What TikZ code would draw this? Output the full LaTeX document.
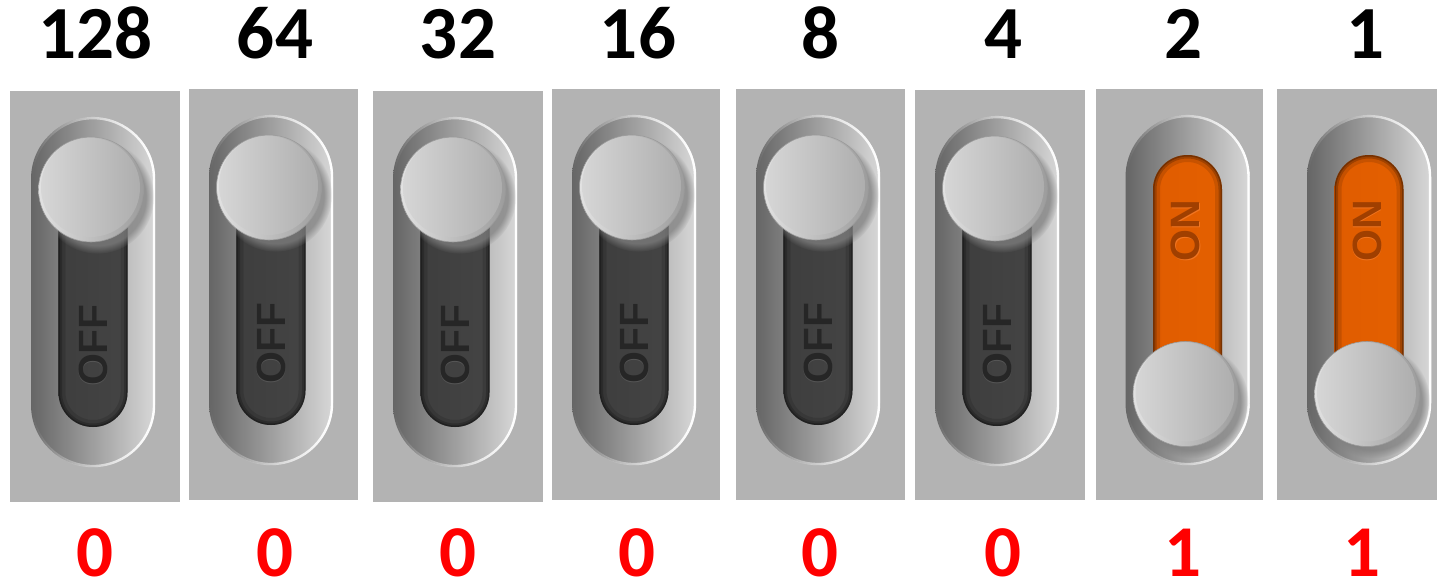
\documentclass[tikz,border=0pt]{standalone}
\usepackage{fontspec}
\setmainfont{Carlito}
\newfontfamily\capfont{Liberation Sans}
\usetikzlibrary{shadows,fadings}

\definecolor{panelgray}{HTML}{B3B3B3}
\definecolor{bezelleft}{HTML}{656565}
\definecolor{bezelright}{HTML}{D8D8D8}
\definecolor{slotedge}{HTML}{3E3E3E}
\definecolor{slotmid}{HTML}{5A5A5A}
\definecolor{slotedgeR}{HTML}{444444}
\definecolor{offink}{HTML}{262626}
\definecolor{offlight}{HTML}{606060}
\definecolor{orangeedge}{HTML}{E05C00}
\definecolor{orangemid}{HTML}{F56E00}
\definecolor{orangeedgeR}{HTML}{E46000}
\definecolor{onink}{HTML}{A03F00}
\definecolor{onlight}{HTML}{F88030}
\definecolor{knobleft}{HTML}{E2E2E2}
\definecolor{knobright}{HTML}{9C9C9C}
\definecolor{knobileft}{HTML}{D6D6D6}
\definecolor{knobiright}{HTML}{AEAEAE}
\definecolor{knobedge}{HTML}{9A9A9A}
\definecolor{bitred}{HTML}{FF0000}

% rim light: invisible on the left, bright on the right
\tikzfading[name=rimfade, left color=transparent!100, middle color=transparent!85, right color=transparent!0]

\tikzset{
  panel/.style={fill=panelgray, draw=none},
  bezel/.style={rounded corners=62pt, left color=bezelleft, right color=bezelright},
  rim/.style={draw=white, line width=2.4pt, rounded corners=61pt, path fading=rimfade},
  slotoff/.style={rounded corners=34.5pt, left color=slotedge, middle color=slotmid, right color=slotedgeR},
  sloton/.style={rounded corners=34.5pt, left color=orangeedge, middle color=orangemid, right color=orangeedgeR},
  slotshade/.style={draw=black, rounded corners=34.5pt},
  slotlabel/.style={rotate=90, inner sep=0, font=\capfont\bfseries\fontsize{41}{41}\selectfont},
  knobshadow/.style={circular drop shadow={shadow xshift=6pt, shadow yshift=-7pt, opacity=.75, shadow scale=1.08}},
  knobouter/.style={left color=knobleft, right color=knobright},
  knobinner/.style={left color=knobileft, right color=knobiright},
  weight/.style={anchor=base, inner sep=0, text=black, font=\fontsize{75}{75}\selectfont\bfseries},
  bitval/.style={anchor=base, inner sep=0, text depth=0pt, text=bitred, font=\fontsize{73}{73}\selectfont\bfseries},
}

% #1 = centre x of the bezel, #2 = top y of the bezel, #3 = 1 for ON, #4 = name prefix
\newcommand\drawtoggle[4]{%
  % bezel
  \path[bezel] ({#1-62},{#2}) rectangle ({#1+62},{#2+350});
  \path[rim] ({#1-61},{#2+1}) rectangle ({#1+61},{#2+349});
  % slot
  \ifnum#3=1
    \path[sloton] ({#1-34.5},{#2+40}) rectangle ({#1+34.5},{#2+310});
  \else
    \path[slotoff] ({#1-34.5},{#2+40}) rectangle ({#1+34.5},{#2+310});
  \fi
  \begin{scope}
    \clip[rounded corners=34.5pt] ({#1-34.5},{#2+40}) rectangle ({#1+34.5},{#2+310});
    \path[slotshade, line width=14pt, draw opacity=.12] ({#1-34.5},{#2+40}) rectangle ({#1+34.5},{#2+310});
    \path[slotshade, line width=7pt, draw opacity=.2] ({#1-34.5},{#2+40}) rectangle ({#1+34.5},{#2+310});
    \path[slotshade, line width=3pt, draw opacity=.25] ({#1-34.5},{#2+40}) rectangle ({#1+34.5},{#2+310});
  \end{scope}
  % slot caption and knob
  \ifnum#3=1
    \node[slotlabel, text=onlight, opacity=.7] (#4-glow) at ({#1-1.2},{#2+116.8}) {ON};
    \node[slotlabel, text=onink] (#4-label) at ({#1-2},{#2+116}) {ON};
    \path[knobshadow] ({#1-2},{#2+279}) circle[radius=52.5];
    \path[knobouter] ({#1-2},{#2+279}) circle[radius=52.5];
    \path[knobinner] ({#1-2.5},{#2+277}) circle[radius=49.5];
    \draw[knobedge, line width=.6pt] ({#1-2},{#2+279}) circle[radius=52.5];
  \else
    \node[slotlabel, text=offlight, opacity=.7] (#4-glow) at ({#1+0.8},{#2+228.8}) {OFF};
    \node[slotlabel, text=offink] (#4-label) at ({#1},{#2+228}) {OFF};
    \path[knobshadow] ({#1-2},{#2+72.5}) circle[radius=52.5];
    \path[knobouter] ({#1-2},{#2+72.5}) circle[radius=52.5];
    \path[knobinner] ({#1-2.5},{#2+70.5}) circle[radius=49.5];
    \draw[knobedge, line width=.6pt] ({#1-2},{#2+72.5}) circle[radius=52.5];
  \fi
}

\begin{document}
\begin{tikzpicture}[x=1pt,y=-1pt]
\useasboundingbox (0,0) rectangle (1437,586);

% grey plates behind the switches
\path[panel] (10,91) rectangle (180,502);
\path[panel] (189,89) rectangle (358,500);
\path[panel] (373,91) rectangle (543,502);
\path[panel] (552,89) rectangle (720,500);
\path[panel] (736,89) rectangle (905,500);
\path[panel] (915,90) rectangle (1085,500);
\path[panel] (1096,89) rectangle (1263,500);
\path[panel] (1277,89) rectangle (1437,500);

% the eight toggles, most significant bit first
\drawtoggle{93}{117}{0}{b7}
\drawtoggle{271}{115}{0}{b6}
\drawtoggle{455}{117}{0}{b5}
\drawtoggle{634}{115}{0}{b4}
\drawtoggle{818}{115}{0}{b3}
\drawtoggle{997}{116}{0}{b2}
\drawtoggle{1187.5}{115}{1}{b1}
\drawtoggle{1369}{115}{1}{b0}

% place values
\node[weight] (w7) at (95.5,59) {128};
\node[weight] (w6) at (275,59) {64};
\node[weight] (w5) at (458,59) {32};
\node[weight] (w4) at (638,59) {16};
\node[weight] (w3) at (820,59) {8};
\node[weight] (w2) at (1003,59) {4};
\node[weight] (w1) at (1183.5,59) {2};
\node[weight] (w0) at (1365,59) {1};

% bit values
\node[bitval] (v7) at (95,576) {0};
\node[bitval] (v6) at (275,576) {0};
\node[bitval] (v5) at (458,576) {0};
\node[bitval] (v4) at (637,576) {0};
\node[bitval] (v3) at (820,576) {0};
\node[bitval] (v2) at (1003,576) {0};
\node[bitval] (v1) at (1183,576) {1};
\node[bitval] (v0) at (1362,576) {1};
\end{tikzpicture}
\end{document}
